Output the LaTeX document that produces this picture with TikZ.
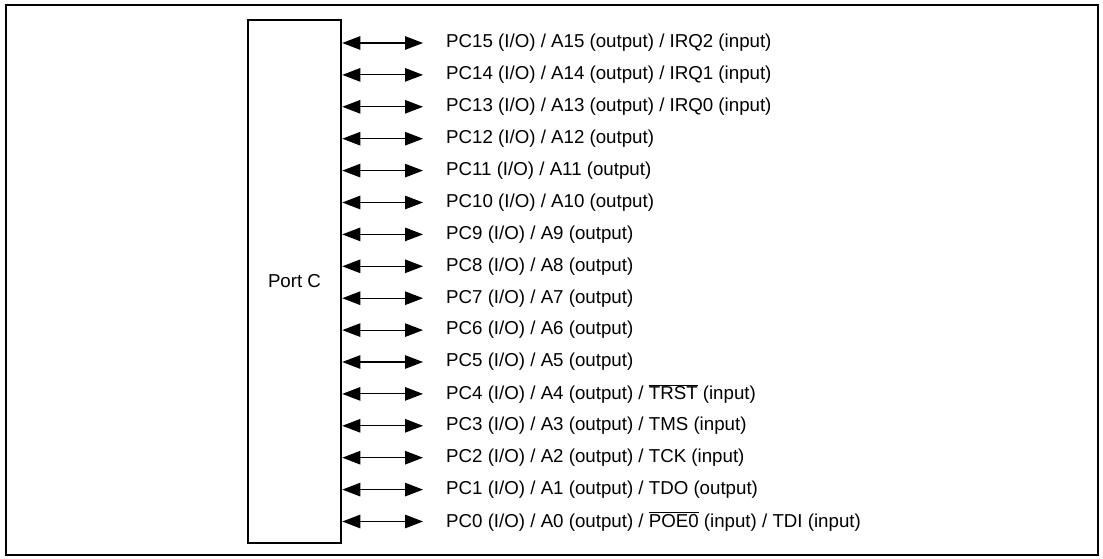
\documentclass[tikz,border=0pt]{standalone}
\usepackage{fontspec}
\setmainfont{Liberation Sans}
\usetikzlibrary{arrows.meta}
\begin{document}
\begin{tikzpicture}[x=1pt,y=-1pt,
  lbl/.style={anchor=west,inner sep=0pt,font=\fontsize{18.7}{22}\selectfont},
  arr/.style={{Triangle[length=18pt,width=13.5pt]}-{Triangle[length=18pt,width=13.5pt]},line width=1.1pt},
  frame/.style={line width=2.2pt},
  portbox/.style={draw,line width=2.6pt,minimum width=93pt,minimum height=523pt,inner sep=0pt,font=\fontsize{18.7}{22}\selectfont}]
\useasboundingbox (0,0) rectangle (1103,559);
\draw[frame] (6,5) rectangle (1098,555);
\node[portbox] (portc) at (294.5,281.5) {Port C};
\def\rowy#1{43+31.9*#1}
\node[lbl] (l15) at (446,{\rowy{0}}) {PC15 (I/O) / A15 (output) / IRQ2 (input)};
\node[lbl] (l14) at (446,{\rowy{1}}) {PC14 (I/O) / A14 (output) / IRQ1 (input)};
\node[lbl] (l13) at (446,{\rowy{2}}) {PC13 (I/O) / A13 (output) / IRQ0 (input)};
\node[lbl] (l12) at (446,{\rowy{3}}) {PC12 (I/O) / A12 (output)};
\node[lbl] (l11) at (446,{\rowy{4}}) {PC11 (I/O) / A11 (output)};
\node[lbl] (l10) at (446,{\rowy{5}}) {PC10 (I/O) / A10 (output)};
\node[lbl] (l9) at (446,{\rowy{6}}) {PC9 (I/O) / A9 (output)};
\node[lbl] (l8) at (446,{\rowy{7}}) {PC8 (I/O) / A8 (output)};
\node[lbl] (l7) at (446,{\rowy{8}}) {PC7 (I/O) / A7 (output)};
\node[lbl] (l6) at (446,{\rowy{9}}) {PC6 (I/O) / A6 (output)};
\node[lbl] (l5) at (446,{\rowy{10}}) {PC5 (I/O) / A5 (output)};
\node[lbl] (l4) at (446,{\rowy{11}}) {PC4 (I/O) / A4 (output) / $\overline{\mbox{TRST}}$ (input)};
\node[lbl] (l3) at (446,{\rowy{12}}) {PC3 (I/O) / A3 (output) / TMS (input)};
\node[lbl] (l2) at (446,{\rowy{13}}) {PC2 (I/O) / A2 (output) / TCK (input)};
\node[lbl] (l1) at (446,{\rowy{14}}) {PC1 (I/O) / A1 (output) / TDO (output)};
\node[lbl] (l0) at (446,{\rowy{15}}) {PC0 (I/O) / A0 (output) / $\overline{\mbox{POE0}}$ (input) / TDI (input)};
\foreach \n in {15,14,13,12,11,10,9,8,7,6,5,4,3,2,1,0}{
  \draw[arr] (l\n.west -| portc.east) -- ([xshift=-23pt]l\n.west);
}
\end{tikzpicture}
\end{document}
